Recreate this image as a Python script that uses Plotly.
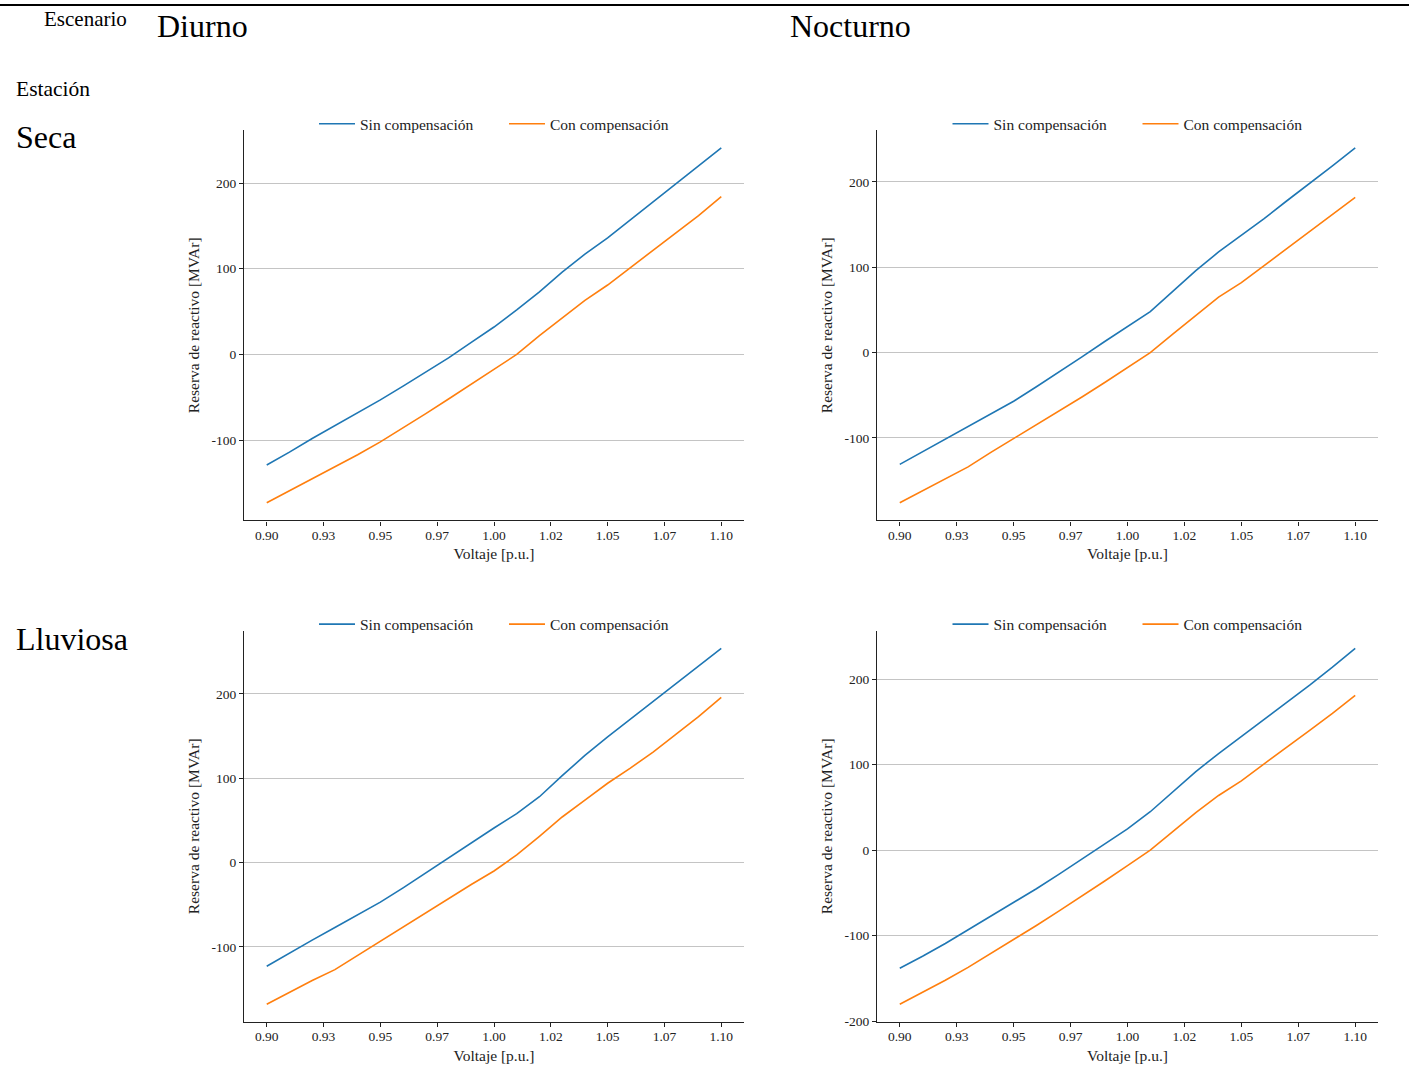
import plotly.graph_objects as go

# ---------------- data ----------------
voltaje = [0.90, 0.91, 0.92, 0.93, 0.94, 0.95, 0.96, 0.97, 0.98, 0.99, 1.00,
           1.01, 1.02, 1.03, 1.04, 1.05, 1.06, 1.07, 1.08, 1.09, 1.10]

diurno_seca_sin = [-129, -114, -98, -83, -68, -53, -37, -21, -4, 14, 32,
                   52, 73, 96, 117, 136, 157, 177, 198, 219, 241]
diurno_seca_con = [-173, -159, -145, -131, -117, -102, -86, -69, -52, -35, -18,
                   0, 22, 43, 63, 81, 101, 121, 141, 162, 184]

nocturno_seca_sin = [-131, -116, -101, -86, -72, -57, -40, -23, -5, 13, 30,
                     48, 72, 96, 118, 137, 157, 178, 198, 219, 240]
nocturno_seca_con = [-176, -162, -148, -134, -117, -101, -85, -69, -52, -35, -18,
                     0, 22, 44, 65, 82, 102, 121, 141, 161, 182]

diurno_lluviosa_sin = [-123, -107, -92, -77, -62, -47, -30, -12, 5, 24, 41,
                       58, 78, 103, 127, 149, 170, 191, 211, 232, 254]
diurno_lluviosa_con = [-168, -154, -140, -127, -110, -93, -76, -59, -43, -26, -10,
                       9, 31, 54, 74, 94, 112, 131, 152, 173, 196]

nocturno_lluviosa_sin = [-138, -124, -109, -93, -78, -62, -45, -28, -10, 8, 25,
                         45, 68, 92, 113, 133, 152, 172, 193, 214, 236]
nocturno_lluviosa_con = [-180, -166, -152, -137, -121, -105, -88, -71, -54, -36, -18,
                         0, 22, 44, 64, 81, 101, 120, 140, 160, 181]

x_tickvals = [0.90, 0.925, 0.95, 0.975, 1.00, 1.025, 1.05, 1.075, 1.10]
x_ticktext = ["0.90", "0.93", "0.95", "0.97", "1.00", "1.02", "1.05", "1.07", "1.10"]
y_tickvals = [-200, -100, 0, 100, 200]
y_ticktext = ["-200", "-100", "0", "100", "200"]

serie_nombres = ["Sin compensación", "Con compensación"]
colores = ["#1f77b4", "#ff7f0e"]

# ---------------- layout geometry ----------------
W, H = 1409, 1072      # reference picture size (positions below are in these pixels)
FIG_H = 1080           # rendered figure height
FONT = "Liberation Serif"

def px_x(p):
    return p / W

def px_y(p):
    return 1 - p / H

panels = [
    (diurno_seca_sin, diurno_seca_con, (244, 744), (130, 520)),
    (nocturno_seca_sin, nocturno_seca_con, (877, 1378), (130, 520)),
    (diurno_lluviosa_sin, diurno_lluviosa_con, (244, 744), (630, 1021)),
    (nocturno_lluviosa_sin, nocturno_lluviosa_con, (877, 1378), (630, 1021)),
]

fig = go.Figure()
layout = {}

for i, (sin, con, (xl, xr), (yt, yb)) in enumerate(panels):
    k = "" if i == 0 else str(i + 1)
    leg = "legend" + k
    for j, (name, ys, col) in enumerate(zip(serie_nombres, [sin, con], colores)):
        fig.add_trace(go.Scatter(
            x=voltaje, y=ys, mode="lines", name=name,
            line=dict(color=col, width=1.6),
            xaxis="x" + k, yaxis="y" + k, legend=leg,
            legendwidth=139 if j == 0 else None,
        ))
    allv = sin + con
    lo, hi = min(allv), max(allv)
    pad = 0.05 * (hi - lo)
    xpad = 0.05 * (voltaje[-1] - voltaje[0])
    layout["xaxis" + k] = dict(
        domain=[px_x(xl), px_x(xr)], anchor="y" + k,
        range=[voltaje[0] - xpad, voltaje[-1] + xpad],
        tickmode="array", tickvals=x_tickvals, ticktext=x_ticktext,
        showgrid=False, zeroline=False, showline=True, linecolor="#222",
        linewidth=1.2, ticks="outside", ticklen=4, tickcolor="#222",
        ticklabelstandoff=-2,
        tickfont=dict(family=FONT, size=13.5, color="#222"),
        title=dict(text="Voltaje [p.u.]", font=dict(family=FONT, size=15.5, color="#222"),
                   standoff=6),
    )
    layout["yaxis" + k] = dict(
        domain=[px_y(yb), px_y(yt)], anchor="x" + k,
        range=[lo - pad, hi + pad],
        tickmode="array", tickvals=y_tickvals, ticktext=y_ticktext,
        showgrid=True, gridcolor="#c4c4c4", gridwidth=1,
        zeroline=False, showline=True, linecolor="#222",
        linewidth=1.2, ticks="outside", ticklen=4, tickcolor="#222",
        tickfont=dict(family=FONT, size=13.5, color="#222"),
        title=dict(text="Reserva de reactivo [MVAr]",
                   font=dict(family=FONT, size=15.5, color="#222"), standoff=8),
    )
    layout[leg] = dict(
        orientation="h", x=px_x((xl + xr) / 2), xanchor="center",
        y=px_y(yt - 6), yanchor="middle",
        font=dict(family=FONT, size=15.5, color="#222"),
        bgcolor="rgba(0,0,0,0)", itemwidth=36,
    )

annotations = [
    dict(text="Escenario", x=px_x(42), y=px_y(19), xanchor="left", yanchor="middle",
         font=dict(family=FONT, size=21, color="black")),
    dict(text="Diurno", x=px_x(155), y=px_y(26), xanchor="left", yanchor="middle",
         font=dict(family=FONT, size=32, color="black")),
    dict(text="Nocturno", x=px_x(788), y=px_y(26), xanchor="left", yanchor="middle",
         font=dict(family=FONT, size=32, color="black")),
    dict(text="Estación", x=px_x(14), y=px_y(89), xanchor="left", yanchor="middle",
         font=dict(family=FONT, size=21.5, color="black")),
    dict(text="Seca", x=px_x(14), y=px_y(137), xanchor="left", yanchor="middle",
         font=dict(family=FONT, size=32, color="black")),
    dict(text="Lluviosa", x=px_x(14), y=px_y(638), xanchor="left", yanchor="middle",
         font=dict(family=FONT, size=32, color="black")),
]
for a in annotations:
    a.update(xref="paper", yref="paper", showarrow=False)

fig.update_layout(
    width=W, height=FIG_H,
    margin=dict(l=0, r=0, t=0, b=0),
    paper_bgcolor="white", plot_bgcolor="white",
    annotations=annotations,
    shapes=[dict(type="line", xref="paper", yref="paper", x0=0, x1=1,
                 y0=px_y(5), y1=px_y(5), line=dict(color="black", width=2))],
    showlegend=True,
    **layout,
)

post = (
    "document.documentElement.style.margin='0';"
    "document.body.style.margin='0';document.body.style.padding='0';"
    "document.body.style.overflow='hidden';"
    "document.documentElement.style.overflow='hidden';"
    "var d=document.getElementById('{plot_id}');"
    "d.style.position='fixed';d.style.top='0';d.style.left='0';"
)
fig.write_html("out.html", post_script=post, config={"displayModeBar": False})
